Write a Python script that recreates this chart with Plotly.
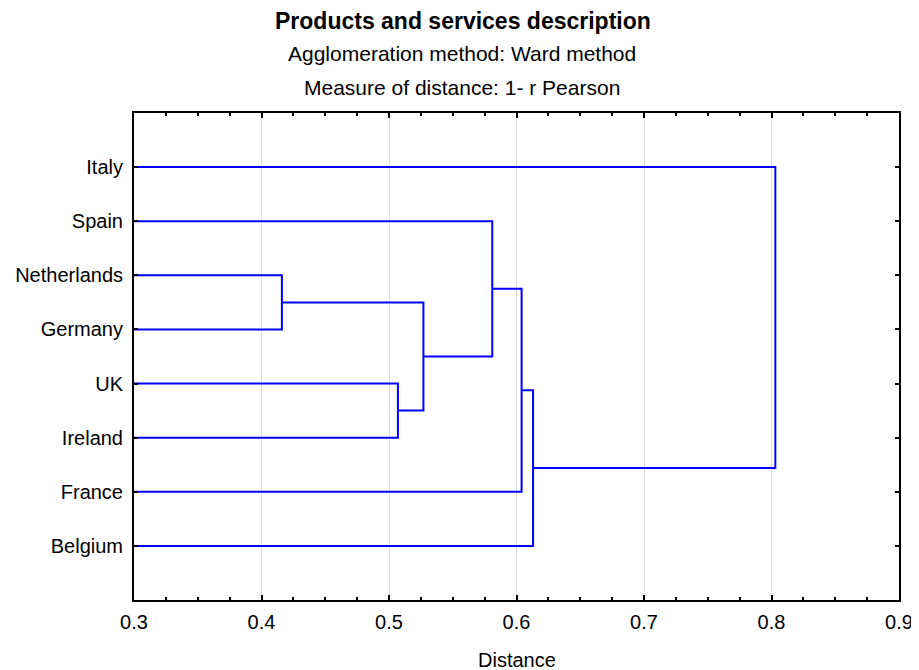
import plotly.graph_objects as go

# ---- data ----
leaves = ["Belgium", "France", "Ireland", "UK", "Germany", "Netherlands", "Spain", "Italy"]  # bottom -> top
merge_left = ["Netherlands", "UK", "C1", "Spain", "France", "Belgium", "Italy"]
merge_right = ["Germany", "Ireland", "C2", "C3", "C4", "C5", "C6"]
merge_dist = [0.416, 0.507, 0.527, 0.581, 0.604, 0.613, 0.803]
x_ticks = [0.3, 0.4, 0.5, 0.6, 0.7, 0.8, 0.9]

# ---- build dendrogram paths ----
pos = {name: (0.0, i) for i, name in enumerate(leaves)}  # (height, y)
xs, ys = [], []
for k, (a, b, d) in enumerate(zip(merge_left, merge_right, merge_dist), start=1):
    ha, ya = pos[a]
    hb, yb = pos[b]
    xs += [ha, d, d, hb, None]
    ys += [ya, ya, yb, yb, None]
    pos[f"C{k}"] = (d, (ya + yb) / 2)

FONT = "Liberation Sans, Arial, sans-serif"

# page offset (body margin) compensation
OFF = 8
W, H = 919 - OFF, 670 - OFF
ML, MT = 134 - OFF, 113 - OFF
PW, PH = 765, 487
MR = W - ML - PW
MB = H - MT - PH

fig = go.Figure()
fig.add_trace(go.Scatter(x=xs, y=ys, mode="lines",
                         line=dict(color="#0000FF", width=2),
                         hoverinfo="skip", showlegend=False))

fig.update_layout(
    width=W, height=H,
    margin=dict(l=ML, r=MR, t=MT, b=MB, autoexpand=False),
    paper_bgcolor="white", plot_bgcolor="white",
    font=dict(family=FONT, color="black", size=20),
    showlegend=False,
)

fig.update_xaxes(
    range=[0.3, 0.9], tickvals=x_ticks, ticktext=[f"{v:.1f}" for v in x_ticks],
    showgrid=True, gridcolor="#dcdcdc", gridwidth=1,
    showline=True, linecolor="black", linewidth=2, mirror="ticks",
    ticks="inside", ticklen=5, tickcolor="black", tickwidth=1.5,
    minor=dict(dtick=0.025, tick0=0.3, ticks="inside", ticklen=3, tickcolor="black",
               tickwidth=1.5, showgrid=False),
    zeroline=False, tickfont=dict(size=20), ticklabelstandoff=3,
    automargin=False,
)
fig.update_yaxes(
    range=[-1, 8], tickvals=list(range(len(leaves))), ticktext=leaves,
    showgrid=False, showline=True, linecolor="black", linewidth=2, mirror="ticks",
    ticks="inside", ticklen=4, tickcolor="black", tickwidth=1.5,
    zeroline=False, tickfont=dict(size=20), ticklabelstandoff=5,
    automargin=False,
)

def py(pix):  # viewport pixel -> paper y
    return (OFF + MT + PH - pix) / PH
def px(pix):  # viewport pixel -> paper x
    return (pix - OFF - ML) / PW

fig.add_annotation(text="<b>Products and services description</b>", xref="paper", yref="paper",
                   x=px(463), y=py(21), showarrow=False, xanchor="center", yanchor="middle",
                   font=dict(size=23, family=FONT))
fig.add_annotation(text="Agglomeration method: Ward method", xref="paper", yref="paper",
                   x=px(462), y=py(54), showarrow=False, xanchor="center", yanchor="middle",
                   font=dict(size=21, family=FONT))
fig.add_annotation(text="Measure of distance: 1- r Pearson", xref="paper", yref="paper",
                   x=px(462), y=py(87), showarrow=False, xanchor="center", yanchor="middle",
                   font=dict(size=21, family=FONT))
fig.add_annotation(text="Distance", xref="paper", yref="paper",
                   x=0.5, y=py(660), showarrow=False, xanchor="center", yanchor="middle",
                   font=dict(size=20, family=FONT))

fig.write_html("out.html")
